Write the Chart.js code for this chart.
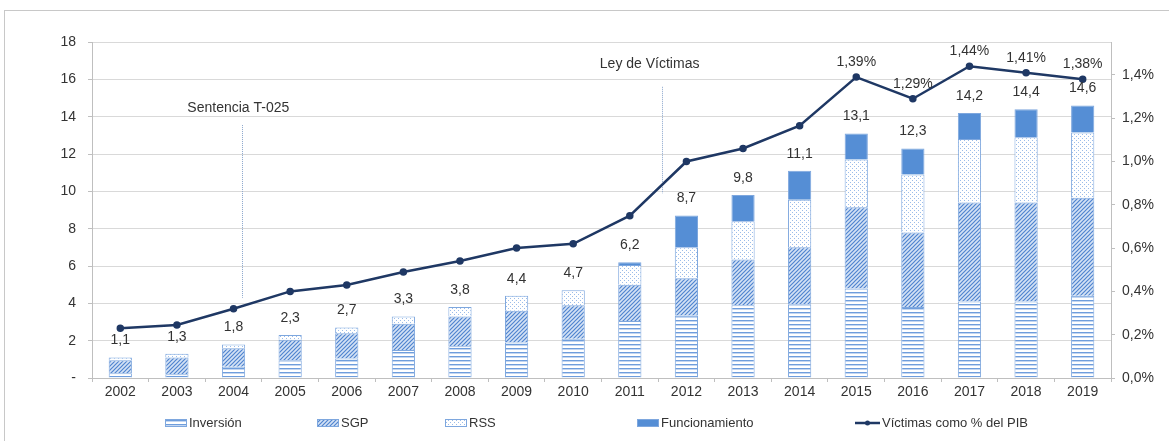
<!DOCTYPE html>
<html>
<head>
<meta charset="utf-8">
<script src="https://cdn.jsdelivr.net/npm/chart.js@4"></script>
<style>
  html, body { margin: 0; padding: 0; background: #fff; }
  #wrap { position: relative; width: 1169px; height: 441px; overflow: hidden; }
  #marco { position: absolute; left: 4px; top: 10px; width: 1200px; height: 460px; border: 1px solid #c8c8c8; }
  canvas { position: absolute; left: 0; top: 0; }
</style>
</head>
<body>
<div id="wrap">
  <div id="marco"></div>
  <canvas id="grafico" width="1169" height="441"></canvas>
</div>
<script>
// datos (billones de pesos y % del PIB)
const years = ["2002", "2003", "2004", "2005", "2006", "2007", "2008", "2009", "2010",
  "2011", "2012", "2013", "2014", "2015", "2016", "2017", "2018", "2019"];
const inversion = [0.25, 0.2, 0.6, 0.95, 1.05, 1.5, 1.7, 1.9, 2.1, 3.05, 3.35, 3.9, 3.95, 4.8, 3.8, 4.1, 4.1, 4.4];
const sgp = [0.7, 0.9, 1.0, 1.1, 1.35, 1.4, 1.6, 1.7, 1.8, 1.95, 2.0, 2.45, 3.05, 4.35, 4.0, 5.3, 5.3, 5.25];
const rss = [0.15, 0.2, 0.2, 0.25, 0.3, 0.4, 0.5, 0.8, 0.8, 1.05, 1.65, 2.05, 2.55, 2.55, 3.1, 3.4, 3.5, 3.5];
const funcionamiento = [0, 0, 0, 0, 0, 0, 0, 0, 0, 0.15, 1.7, 1.4, 1.55, 1.4, 1.4, 1.4, 1.5, 1.45];
const totales = [1.1, 1.3, 1.8, 2.3, 2.7, 3.3, 3.8, 4.4, 4.7, 6.2, 8.7, 9.8, 11.1, 13.1, 12.3, 14.2, 14.4, 14.6];
const pctPib = [0.23, 0.245, 0.32, 0.40, 0.43, 0.49, 0.54, 0.60, 0.62, 0.75, 1.0, 1.06, 1.165, 1.39, 1.29, 1.44, 1.41, 1.38];
const pctConEtiqueta = [false, false, false, false, false, false, false, false, false,
  false, false, false, false, true, true, true, true, true];
const ticksIzq = [0, 2, 4, 6, 8, 10, 12, 14, 16, 18];
const ticksDer = [0, 0.2, 0.4, 0.6, 0.8, 1.0, 1.2, 1.4];

// hitos (posición en el eje de categorías y en el eje izquierdo)
const hitos = [
  { texto: "Sentencia T-025", x: 2.155, desde: 13.55, hasta: 4.3, tx: 2.085, ty: 14.46 },
  { texto: "Ley de Víctimas", x: 9.57, desde: 15.6, hasta: 9.9, tx: 9.35, ty: 16.82 }
];

const FUENTE = "'Liberation Sans', Arial, sans-serif";
const coma = (v, d) => v.toFixed(d).replace(".", ",");

// tramas
function trama(w, h, dibujar) {
  const c = document.createElement("canvas");
  c.width = w; c.height = h;
  const g = c.getContext("2d");
  dibujar(g);
  return document.getElementById("grafico").getContext("2d").createPattern(c, "repeat");
}
const tramaInv = trama(4, 4, (g) => {
  g.fillStyle = "#ffffff"; g.fillRect(0, 0, 4, 4);
  g.fillStyle = "#6e9ddc"; g.fillRect(0, 0, 4, 1);
  g.fillStyle = "#c3d6f1"; g.fillRect(0, 1, 4, 1);
});
const tramaSgp = trama(4, 4, (g) => {
  g.fillStyle = "#d4e2f5"; g.fillRect(0, 0, 4, 4);
  g.strokeStyle = "#4f84cf"; g.lineWidth = 1.2;
  g.beginPath();
  g.moveTo(-1, 5); g.lineTo(5, -1);
  g.moveTo(-1, 1); g.lineTo(1, -1);
  g.moveTo(3, 5); g.lineTo(5, 3);
  g.stroke();
});
const tramaRss = trama(4, 4, (g) => {
  g.fillStyle = "#ffffff"; g.fillRect(0, 0, 4, 4);
  g.fillStyle = "#9bbce9";
  g.fillRect(0, 0, 1, 1);
  g.fillRect(2, 2, 1, 1);
});
const colorFunc = "#558ed5";
const colorLinea = "#1f3864";
const bordeBarra = "#7ea7de";

const etiquetas = {
  id: "etiquetas",
  afterDatasetsDraw(chart) {
    const { ctx, scales } = chart;
    ctx.save();
    ctx.font = "14px " + FUENTE;
    ctx.fillStyle = "#333";
    ctx.textAlign = "center";
    ctx.textBaseline = "middle";
    totales.forEach((t, i) => {
      const x = scales.x.getPixelForValue(i);
      const y = scales.y.getPixelForValue(t);
      ctx.fillText(coma(t, 1), x, y - 17);
    });
    const meta = chart.getDatasetMeta(4);
    pctPib.forEach((p, i) => {
      if (!pctConEtiqueta[i]) return;
      const pt = meta.data[i];
      ctx.fillText(coma(p, 2) + "%", pt.x, pt.y - 15);
    });
    ctx.restore();
  }
};

const anotaciones = {
  id: "anotaciones",
  beforeDatasetsDraw(chart) {
    const { ctx, scales } = chart;
    ctx.save();
    hitos.forEach((h) => {
      const x = Math.round(scales.x.getPixelForValue(h.x)) + 0.5;
      ctx.strokeStyle = "#8aa6cc";
      ctx.lineWidth = 1;
      ctx.setLineDash([1, 1]);
      ctx.beginPath();
      ctx.moveTo(x, scales.y.getPixelForValue(h.desde));
      ctx.lineTo(x, scales.y.getPixelForValue(h.hasta));
      ctx.stroke();
      ctx.setLineDash([]);
      ctx.font = "14px " + FUENTE;
      ctx.fillStyle = "#333";
      ctx.textAlign = "center";
      ctx.textBaseline = "middle";
      ctx.fillText(h.texto, scales.x.getPixelForValue(h.tx), scales.y.getPixelForValue(h.ty));
    });
    ctx.restore();
  }
};

const leyenda = {
  id: "leyenda",
  afterDraw(chart) {
    const ctx = chart.ctx;
    const yc = 423;
    const items = [
      { texto: "Inversión", x: 165, fill: tramaInv },
      { texto: "SGP", x: 317, fill: tramaSgp },
      { texto: "RSS", x: 445, fill: tramaRss },
      { texto: "Funcionamiento", x: 637, fill: colorFunc }
    ];
    ctx.save();
    ctx.font = "13px " + FUENTE;
    ctx.fillStyle = "#333";
    ctx.textBaseline = "middle";
    items.forEach((it) => {
      ctx.fillStyle = it.fill;
      ctx.fillRect(it.x, yc - 4, 22, 8);
      ctx.strokeStyle = bordeBarra;
      ctx.lineWidth = 1;
      ctx.strokeRect(it.x + 0.5, yc - 3.5, 21, 7);
      ctx.fillStyle = "#333";
      ctx.fillText(it.texto, it.x + 24, yc);
    });
    ctx.strokeStyle = colorLinea;
    ctx.lineWidth = 2.5;
    ctx.beginPath();
    ctx.moveTo(855, yc); ctx.lineTo(880, yc);
    ctx.stroke();
    ctx.fillStyle = colorLinea;
    ctx.beginPath();
    ctx.arc(867.5, yc, 2.5, 0, Math.PI * 2);
    ctx.fill();
    ctx.fillStyle = "#333";
    ctx.fillText("Víctimas como % del PIB", 882, yc);
    ctx.restore();
  }
};

const barra = (label, data, fill) => ({
  type: "bar",
  label,
  data,
  backgroundColor: fill,
  borderColor: bordeBarra,
  borderWidth: 1,
  yAxisID: "y",
  stack: "gasto",
  order: 1,
  categoryPercentage: 1,
  barPercentage: 0.41
});

new Chart(document.getElementById("grafico"), {
  data: {
    labels: years,
    datasets: [
      barra("Inversión", inversion, tramaInv),
      barra("SGP", sgp, tramaSgp),
      barra("RSS", rss, tramaRss),
      barra("Funcionamiento", funcionamiento, colorFunc),
      {
        type: "line",
        label: "Víctimas como % del PIB",
        data: pctPib,
        yAxisID: "y1",
        borderColor: colorLinea,
        backgroundColor: colorLinea,
        borderWidth: 2.5,
        pointRadius: 2.5,
        pointBackgroundColor: colorLinea,
        tension: 0,
        order: 0
      }
    ]
  },
  options: {
    responsive: false,
    animation: false,
    layout: { padding: { top: 42, left: 0, right: 0, bottom: 0 } },
    plugins: { legend: { display: false }, tooltip: { enabled: false } },
    scales: {
      x: {
        stacked: true,
        offset: true,
        afterFit: (s) => { s.height = 63; },
        border: { color: "#bfbfbf" },
        grid: { display: true, drawOnChartArea: false, drawTicks: true, tickLength: 4, offset: true, color: "#bfbfbf" },
        ticks: { color: "#333", font: { size: 14, family: FUENTE }, padding: 2, maxRotation: 0 }
      },
      y: {
        position: "left",
        stacked: true,
        min: 0,
        max: 18,
        afterFit: (s) => { s.width = 92; },
        afterBuildTicks: (s) => { s.ticks = ticksIzq.map((v) => ({ value: v })); },
        border: { color: "#bfbfbf" },
        grid: { color: "#d9d9d9", tickLength: 4, tickColor: "#bfbfbf" },
        ticks: {
          color: "#333",
          padding: 12,
          font: { size: 14, family: FUENTE },
          callback: (v) => (v === 0 ? "-" : String(v))
        }
      },
      y1: {
        position: "right",
        min: 0,
        max: 1.552,
        afterFit: (s) => { s.width = 58; },
        afterBuildTicks: (s) => { s.ticks = ticksDer.map((v) => ({ value: v })); },
        border: { color: "#bfbfbf" },
        grid: { drawOnChartArea: false, tickLength: 4, color: "#bfbfbf" },
        ticks: {
          color: "#333",
          padding: 7,
          font: { size: 14, family: FUENTE },
          callback: (v) => coma(v, 1) + "%"
        }
      }
    }
  },
  plugins: [anotaciones, etiquetas, leyenda]
});
</script>
</body>
</html>
